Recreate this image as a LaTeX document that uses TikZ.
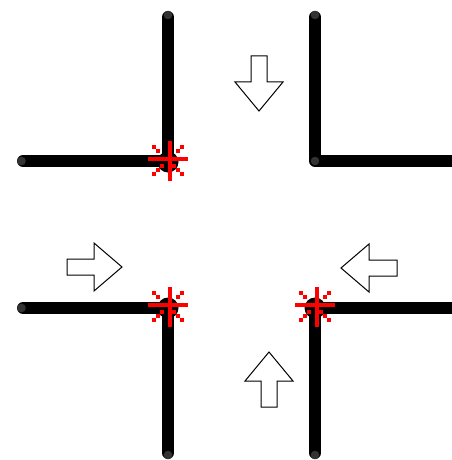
\documentclass[tikz,border=0pt]{standalone}
\definecolor{capgrey}{HTML}{333333}
\definecolor{hitred}{HTML}{FF0000}
\tikzset{
  px/.style={x=0.75pt,y=-0.75pt},
  wall/.style={draw=black,line width=9pt,line cap=round,line join=round},
  capdot/.style={fill=capgrey,draw=none},
  hub/.style={fill=black,draw=none},
  flow/.style={draw=black,fill=white,line width=0.75pt,line join=miter},
  bar/.style={draw=none,fill=hitred},
}
\newcommand{\hitmark}[2]{%
  \begin{scope}[shift={(#1,#2)}]
    \fill[bar] (-20,-2.3) rectangle (20,2.3);
    \fill[bar] (-0.3,-18) rectangle (4.3,22);
    \foreach \dx in {-14,14}{\fill[bar] (\dx-2.2,-14.2) rectangle (\dx+2.2,-9.8);
      \fill[bar] (\dx-2.2,12.8) rectangle (\dx+2.2,17.2);}
    \foreach \dx in {-10,10}{\fill[bar] (\dx-2.2,-10.2) rectangle (\dx+2.2,-5.8);
      \fill[bar] (\dx-2.2,8.8) rectangle (\dx+2.2,13.2);}
    \foreach \dx in {-6,6}{\fill[bar] (\dx-2.2,4.8) rectangle (\dx+2.2,9.2);}
  \end{scope}}
\begin{document}
\begin{tikzpicture}[px]
\useasboundingbox (0,0) rectangle (452,460);
\begin{scope}
\clip (0,0) rectangle (452,460);
% top-left
\draw[wall] (23,161) -- (168,161) -- (168,17);
\fill[hub] (168,162) circle (10.5);
\fill[capdot] (21.5,161) circle (4.3);
\fill[capdot] (168,15) circle (4.3);
% top-right
\draw[wall] (315,17) -- (315,161) -- (460,161);
\fill[capdot] (315,15) circle (4.3);
\fill[capdot] (315,161) circle (4.3);
% bottom-left
\draw[wall] (23,308) -- (168,308) -- (168,453);
\fill[hub] (168,308) circle (10.5);
\fill[capdot] (21.5,308) circle (4.3);
\fill[capdot] (168,455) circle (4.3);
% bottom-right
\draw[wall] (460,308) -- (315,308) -- (315,453);
\fill[hub] (315,308) circle (10.5);
\fill[capdot] (315,455) circle (4.3);
% arrows
\draw[flow] (251,56) -- (267,56) -- (267,82) -- (283,82) -- (259,111) -- (235,82) -- (251,82) -- cycle;
\draw[flow] (261,407) -- (277,407) -- (277,381) -- (293,381) -- (269,352) -- (245,381) -- (261,381) -- cycle;
\draw[flow] (67,259) -- (94,259) -- (94,243) -- (122,267) -- (94,291) -- (94,275) -- (67,275) -- cycle;
\draw[flow] (397,260) -- (369,260) -- (369,244) -- (341,268) -- (369,292) -- (369,276) -- (397,276) -- cycle;
% marks
\hitmark{168}{159}
\hitmark{168}{305}
\hitmark{315}{305}
\end{scope}
\end{tikzpicture}
\end{document}
